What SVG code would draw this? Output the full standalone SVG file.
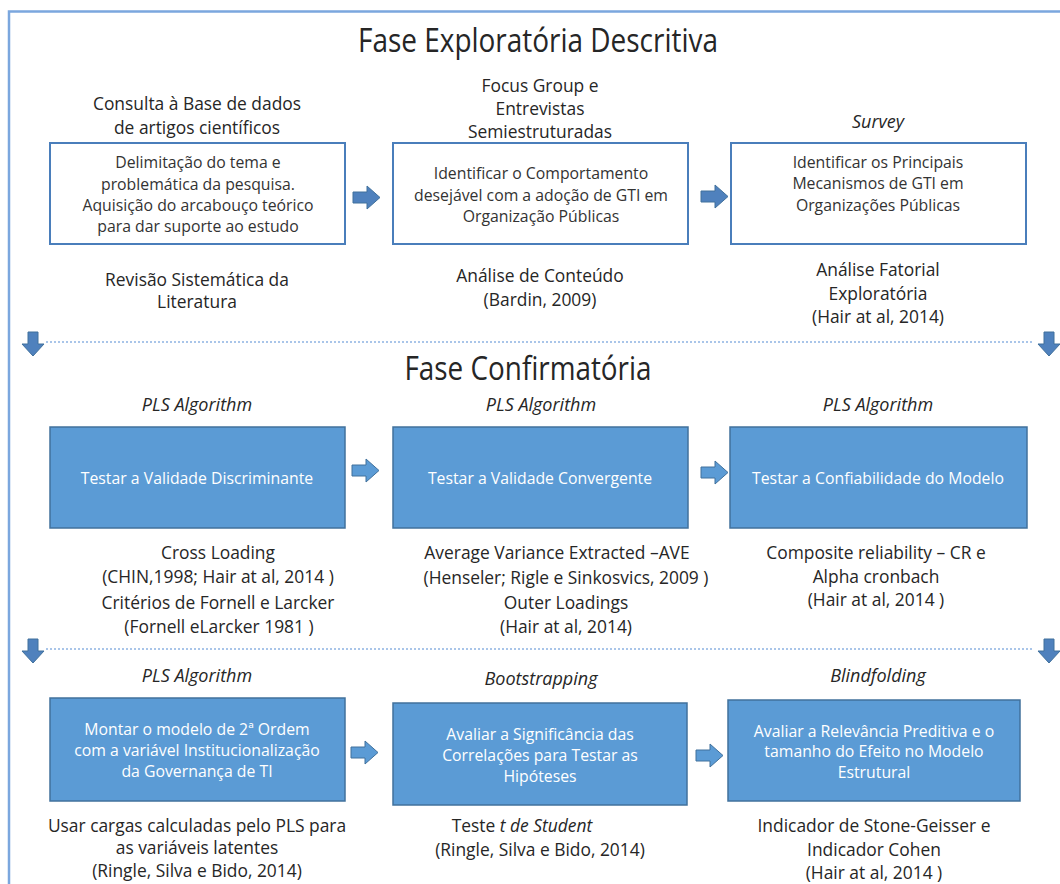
<svg xmlns="http://www.w3.org/2000/svg" xmlns:xlink="http://www.w3.org/1999/xlink" width="1060" height="884" viewBox="0 0 1060 884">
  <style>
    text { font-family: "Open Sans", "Noto Sans", "Liberation Sans", sans-serif; fill: #262626; text-anchor: middle; }
    .title { font-size: 33px; }
    .lbl { font-size: 17.4px; }
    .it { font-style: italic; }
    .hd { font-size: 18px; font-style: italic; }
    .inner { font-size: 15.8px; fill: #333333; }
    .innerw { font-size: 15.8px; fill: #ffffff; }
    .obox { fill: #ffffff; stroke: #4a7ebb; stroke-width: 2; }
    .fbox { fill: #5b9bd5; stroke: #41719c; stroke-width: 1.5; }
    .arr { fill: #4f81bd; stroke: #41719c; stroke-width: 1; }
    .arrl { fill: #5b9bd5; stroke: #41719c; stroke-width: 1; }
    .sep { stroke: #8db3e2; stroke-width: 1.5; stroke-dasharray: 2 2; fill: none; }
    .frame { stroke: #7ba7de; stroke-width: 2.5; fill: none; }
  </style>
  <defs>
    <path id="rarrow" d="M0,6 H14 V0 L27,11.5 L14,23 V17 H0 Z"/>
    <path id="darrow" d="M6,0 H16 V12 H22 L11,24 L0,12 H6 Z"/>
  </defs>

  <rect width="1060" height="884" fill="#ffffff"/>
  <!-- outer frame (top and left edges visible) -->
  <path class="frame" d="M9,890 V11.5 H1070"/>

  <!-- section titles -->
  <text class="title" x="538" y="52" textLength="360" lengthAdjust="spacingAndGlyphs">Fase Exploratória Descritiva</text>
  <text class="title" x="528" y="380" textLength="247" lengthAdjust="spacingAndGlyphs">Fase Confirmatória</text>

  <!-- connectors: block arrows and phase separators -->
  <g id="connectors">
    <use href="#rarrow" class="arr" x="353" y="186"/>
    <use href="#rarrow" class="arr" x="701" y="185"/>
    <use href="#rarrow" class="arrl" x="352" y="459"/>
    <use href="#rarrow" class="arrl" x="701" y="461"/>
    <use href="#rarrow" class="arrl" x="351" y="741"/>
    <use href="#rarrow" class="arrl" x="696" y="744"/>
    <line class="sep" x1="46" y1="342" x2="1034" y2="342"/>
    <line class="sep" x1="46" y1="649" x2="1034" y2="649"/>
    <use href="#darrow" class="arr" x="22" y="332"/>
    <use href="#darrow" class="arr" x="1038" y="332"/>
    <use href="#darrow" class="arr" x="22" y="639"/>
    <use href="#darrow" class="arr" x="1038" y="639"/>
  </g>

  <!-- Exploratory phase -->
  <g id="rsl">
    <text class="lbl" x="197" y="110">Consulta à Base de dados</text>
    <text class="lbl" x="197" y="134">de artigos científicos</text>
    <rect class="obox" x="50" y="143" width="295" height="101"/>
    <text class="inner" x="198" y="168">Delimitação do tema e</text>
    <text class="inner" x="198" y="190">problemática da pesquisa.</text>
    <text class="inner" x="198" y="211">Aquisição do arcabouço teórico</text>
    <text class="inner" x="198" y="232">para dar suporte ao estudo</text>
    <text class="lbl" x="197" y="286">Revisão Sistemática da</text>
    <text class="lbl" x="197" y="308">Literatura</text>
  </g>

  <g id="focus">
    <text class="lbl" x="540" y="92">Focus Group e</text>
    <text class="lbl" x="540" y="115">Entrevistas</text>
    <text class="lbl" x="540" y="138">Semiestruturadas</text>
    <rect class="obox" x="393" y="143" width="295" height="101"/>
    <text class="inner" x="541" y="179">Identificar o Comportamento</text>
    <text class="inner" x="541" y="201">desejável com a adoção de GTI em</text>
    <text class="inner" x="541" y="222">Organização Públicas</text>
    <text class="lbl" x="540" y="282">Análise de Conteúdo</text>
    <text class="lbl" x="540" y="306">(Bardin, 2009)</text>
  </g>

  <g id="survey">
    <text class="hd" x="878" y="128">Survey</text>
    <rect class="obox" x="731" y="143" width="295" height="101"/>
    <text class="inner" x="878" y="168">Identificar os Principais</text>
    <text class="inner" x="878" y="189">Mecanismos de GTI em</text>
    <text class="inner" x="878" y="211">Organizações Públicas</text>
    <text class="lbl" x="878" y="276">Análise Fatorial</text>
    <text class="lbl" x="878" y="300">Exploratória</text>
    <text class="lbl" x="878" y="323">(Hair at al, 2014)</text>
  </g>

  <!-- Confirmatory phase, first row -->
  <g id="discriminante">
    <text class="hd" x="197" y="411">PLS Algorithm</text>
    <rect class="fbox" x="50" y="427" width="295" height="101"/>
    <text class="innerw" x="197" y="484">Testar a Validade Discriminante</text>
    <text class="lbl" x="218" y="559">Cross Loading</text>
    <text class="lbl" x="218" y="583">(CHIN,1998; Hair at al, 2014 )</text>
    <text class="lbl" x="218" y="609">Critérios de Fornell e Larcker</text>
    <text class="lbl" x="219" y="633">(Fornell eLarcker 1981 )</text>
  </g>

  <g id="convergente">
    <text class="hd" x="541" y="411">PLS Algorithm</text>
    <rect class="fbox" x="393" y="427" width="295" height="101"/>
    <text class="innerw" x="540" y="484">Testar  a Validade Convergente</text>
    <text class="lbl" x="557" y="559">Average Variance Extracted –AVE</text>
    <text class="lbl" x="566" y="584">(Henseler; Rigle e Sinkosvics, 2009 )</text>
    <text class="lbl" x="566" y="609">Outer Loadings</text>
    <text class="lbl" x="566" y="633">(Hair at al, 2014)</text>
  </g>

  <g id="confiabilidade">
    <text class="hd" x="878" y="411">PLS Algorithm</text>
    <rect class="fbox" x="730" y="427" width="297" height="101"/>
    <text class="innerw" x="878" y="484">Testar a Confiabilidade do Modelo</text>
    <text class="lbl" x="876" y="559">Composite reliability – CR e</text>
    <text class="lbl" x="876" y="583">Alpha cronbach</text>
    <text class="lbl" x="876" y="606">(Hair at al, 2014 )</text>
  </g>

  <!-- Confirmatory phase, second row -->
  <g id="segunda-ordem">
    <text class="hd" x="197" y="682">PLS Algorithm</text>
    <rect class="fbox" x="50" y="698" width="295" height="103"/>
    <text class="innerw" x="197" y="735">Montar o modelo de 2ª Ordem</text>
    <text class="innerw" x="197" y="756">com a variável Institucionalização</text>
    <text class="innerw" x="197" y="777">da Governança de TI</text>
    <text class="lbl" x="197" y="832">Usar cargas calculadas pelo PLS para</text>
    <text class="lbl" x="197" y="854">as variáveis latentes</text>
    <text class="lbl" x="197" y="877">(Ringle, Silva e Bido, 2014)</text>
  </g>

  <g id="bootstrapping">
    <text class="hd" x="541" y="685">Bootstrapping</text>
    <rect class="fbox" x="393" y="703" width="294" height="102"/>
    <text class="innerw" x="540" y="740">Avaliar a Significância das</text>
    <text class="innerw" x="540" y="761">Correlações para Testar as</text>
    <text class="innerw" x="540" y="782">Hipóteses</text>
    <text class="lbl" x="522" y="832">Teste <tspan class="it">t de Student</tspan></text>
    <text class="lbl" x="540" y="856">(Ringle, Silva e Bido, 2014)</text>
  </g>

  <g id="blindfolding">
    <text class="hd" x="878" y="682">Blindfolding</text>
    <rect class="fbox" x="728" y="700" width="292" height="101"/>
    <text class="innerw" x="874" y="737">Avaliar a Relevância Preditiva e o</text>
    <text class="innerw" x="874" y="757">tamanho do Efeito no Modelo</text>
    <text class="innerw" x="874" y="778">Estrutural</text>
    <text class="lbl" x="874" y="832">Indicador de Stone-Geisser e</text>
    <text class="lbl" x="874" y="856">Indicador Cohen</text>
    <text class="lbl" x="874" y="879">(Hair at al, 2014 )</text>
  </g>
</svg>
